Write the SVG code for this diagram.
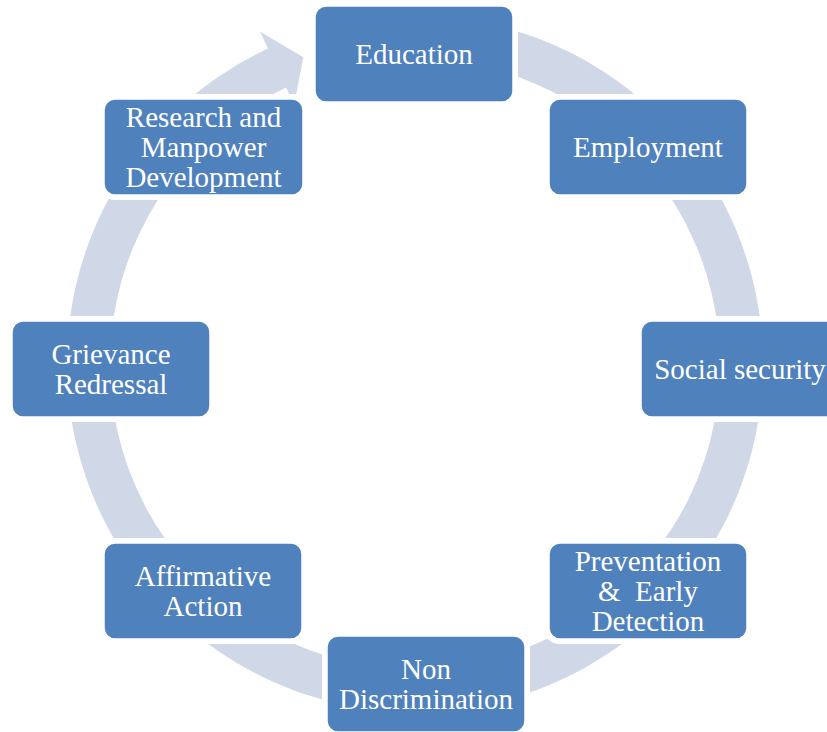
<svg xmlns="http://www.w3.org/2000/svg" width="827" height="732" viewBox="0 0 827 732">
  <style>
    .ring { fill: #D0D8E8; }
    .halo { fill: #FFFFFF; }
    .box { fill: #4F81BD; stroke: #FFFFFF; stroke-width: 1.5; }
    .lbl { font-family: "Liberation Serif", "Times New Roman", serif; font-size: 29px; fill: #FFFFFF; text-anchor: middle; white-space: pre; }
  </style>

  <!-- continuous circular arrow running clockwise behind the nodes -->
  <g id="connectors">
    <path class="ring" d="M384.67,17.33 A348,348 0 1 1 267.93,48.60 L259.90,31.38 L303.33,57.19 L294.13,104.80 L286.10,87.58 A305,305 0 1 0 388.42,60.16 Z"/>
  </g>

  <g id="education">
    <rect class="halo" x="310" y="1" width="208" height="106" rx="15"/>
    <rect class="box" x="315" y="6" width="198" height="96" rx="11"/>
    <text class="lbl" x="414" y="63.5">Education</text>
  </g>

  <g id="employment">
    <rect class="halo" x="544" y="94" width="208" height="106" rx="15"/>
    <rect class="box" x="549" y="99" width="198" height="96" rx="11"/>
    <text class="lbl" x="648" y="156.5">Employment</text>
  </g>

  <g id="social-security">
    <rect class="halo" x="636" y="316" width="208" height="106" rx="15"/>
    <rect class="box" x="641" y="321" width="198" height="96" rx="11"/>
    <text class="lbl" x="740" y="378.5">Social security</text>
  </g>

  <g id="prevention">
    <rect class="halo" x="544" y="538" width="208" height="106" rx="15"/>
    <rect class="box" x="549" y="543" width="198" height="96" rx="11"/>
    <text class="lbl" x="648" y="570.5">Preventation</text>
    <text class="lbl" x="648" y="600.5">&amp;  Early</text>
    <text class="lbl" x="648" y="630.5">Detection</text>
  </g>

  <g id="non-discrimination">
    <rect class="halo" x="322" y="631" width="208" height="106" rx="15"/>
    <rect class="box" x="327" y="636" width="198" height="96" rx="11"/>
    <text class="lbl" x="426" y="678.5">Non</text>
    <text class="lbl" x="426" y="708.5">Discrimination</text>
  </g>

  <g id="affirmative-action">
    <rect class="halo" x="99" y="538" width="208" height="106" rx="15"/>
    <rect class="box" x="104" y="543" width="198" height="96" rx="11"/>
    <text class="lbl" x="203" y="585.5">Affirmative</text>
    <text class="lbl" x="203" y="615.5">Action</text>
  </g>

  <g id="grievance-redressal">
    <rect class="halo" x="7" y="316" width="208" height="106" rx="15"/>
    <rect class="box" x="12" y="321" width="198" height="96" rx="11"/>
    <text class="lbl" x="111" y="363.5">Grievance</text>
    <text class="lbl" x="111" y="393.5">Redressal</text>
  </g>

  <g id="research">
    <rect class="halo" x="99" y="94" width="209" height="106" rx="15"/>
    <rect class="box" x="104" y="99" width="199" height="96" rx="11"/>
    <text class="lbl" x="203.5" y="126.5">Research and</text>
    <text class="lbl" x="203.5" y="156.5">Manpower</text>
    <text class="lbl" x="203.5" y="186.5">Development</text>
  </g>
</svg>
